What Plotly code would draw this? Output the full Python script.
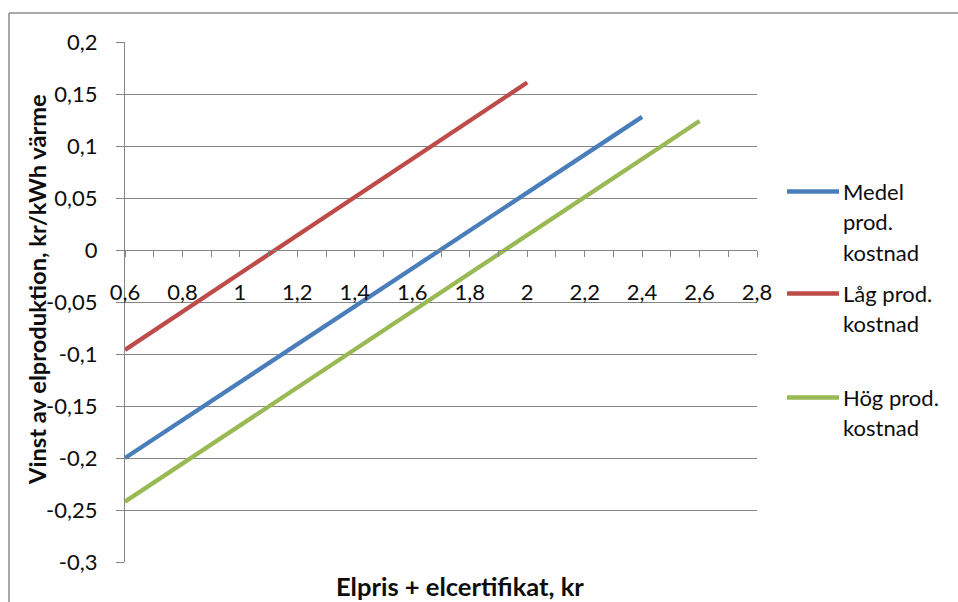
import plotly.graph_objects as go

# Series: profit of electricity production vs. electricity + certificate price
series_names = ["Medel prod. kostnad", "Låg prod. kostnad", "Hög prod. kostnad"]
legend_lines = [["Medel", "prod.", "kostnad"], ["Låg prod.", "kostnad"], ["Hög prod.", "kostnad"]]
series_colors = ["#4A7EBB", "#BE4B48", "#98B954"]

medel_x = [0.6, 2.4]
medel_y = [-0.200, 0.128]
lag_x = [0.6, 2.0]
lag_y = [-0.096, 0.161]
hog_x = [0.6, 2.6]
hog_y = [-0.242, 0.124]

x_tick_vals = [0.6, 0.8, 1.0, 1.2, 1.4, 1.6, 1.8, 2.0, 2.2, 2.4, 2.6, 2.8]
x_tick_text = ["0,6", "0,8", "1", "1,2", "1,4", "1,6", "1,8", "2", "2,2", "2,4", "2,6", "2,8"]
y_tick_vals = [0.2, 0.15, 0.1, 0.05, 0.0, -0.05, -0.1, -0.15, -0.2, -0.25, -0.3]
y_tick_text = ["0,2", "0,15", "0,1", "0,05", "0", "-0,05", "-0,1", "-0,15", "-0,2", "-0,25", "-0,3"]

x_title = "Elpris + elcertifikat, kr"
y_title = "Vinst av elproduktion, kr/kWh värme"

FONT = "Lato"
TXT = "#0D0D0D"
GRID = "#868686"
W, H = 958, 602
L, R, T, B = 125, 201, 42, 40
PW, PH = W - L - R, H - T - B


def px_x(p):
    return (p - L) / PW


def px_y(p):
    return (H - B - p) / PH


fig = go.Figure()
xs = [medel_x, lag_x, hog_x]
ys = [medel_y, lag_y, hog_y]
for name, color, x, y in zip(series_names, series_colors, xs, ys):
    fig.add_trace(go.Scatter(x=x, y=y, mode="lines", name=name,
                             line=dict(color=color, width=4.3), showlegend=False))

# Legend drawn as swatches + text lines
legend_rows = [191.5, 293.5, 397.5]
shapes = []
annotations = []
for lines, color, y0 in zip(legend_lines, series_colors, legend_rows):
    shapes.append(dict(type="line", xref="paper", yref="paper",
                       x0=px_x(787), x1=px_x(839), y0=px_y(y0), y1=px_y(y0),
                       line=dict(color=color, width=4.3)))
    for i, txt in enumerate(lines):
        annotations.append(dict(text=txt, xref="paper", yref="paper",
                                x=px_x(841), y=px_y(y0 + i * 30.3),
                                xanchor="left", yanchor="middle", showarrow=False,
                                font=dict(family=FONT, size=22, color=TXT)))

# Outer chart frame (top and left edges)
shapes.append(dict(type="line", xref="paper", yref="paper",
                   x0=px_x(9), x1=px_x(W + 5), y0=px_y(13), y1=px_y(13),
                   line=dict(color="#8C8C8C", width=1.5)))
shapes.append(dict(type="line", xref="paper", yref="paper",
                   x0=px_x(9), x1=px_x(9), y0=px_y(13), y1=px_y(H + 5),
                   line=dict(color="#8C8C8C", width=1.5)))

annotations.append(dict(text=f"<b>{x_title}</b>", xref="paper", yref="paper",
                        x=px_x(460), y=px_y(586), xanchor="center", yanchor="middle",
                        showarrow=False, font=dict(family=FONT, size=25.5, color=TXT)))
annotations.append(dict(text=f"<b>{y_title}</b>", xref="paper", yref="paper",
                        x=px_x(37), y=px_y(290), xanchor="center", yanchor="middle",
                        textangle=-90, showarrow=False,
                        font=dict(family=FONT, size=23.7, color=TXT)))

fig.update_layout(
    width=W, height=H,
    margin=dict(l=L, r=R, t=T, b=B, pad=0),
    paper_bgcolor="white", plot_bgcolor="white",
    font=dict(family=FONT, size=22, color=TXT),
    showlegend=False,
    shapes=shapes,
    annotations=annotations,
    xaxis=dict(range=[0.6, 2.8], anchor="free", position=0.6,
               tickmode="array", tickvals=x_tick_vals, ticktext=x_tick_text,
               showgrid=False, zeroline=False,
               showline=True, linecolor=GRID, linewidth=1.3,
               ticks="outside", ticklen=6, tickcolor=GRID, tickwidth=1.3,
               minor=dict(tickmode="linear", tick0=0.6, dtick=0.1, ticks="outside",
                          ticklen=6, tickcolor=GRID, tickwidth=1.3),
               ticklabelstandoff=16,
               tickfont=dict(family=FONT, size=22, color=TXT)),
    yaxis=dict(range=[-0.3, 0.2],
               tickmode="array", tickvals=y_tick_vals, ticktext=y_tick_text,
               showgrid=True, gridcolor=GRID, gridwidth=1.3, zeroline=False,
               showline=True, linecolor=GRID, linewidth=1.3,
               ticks="outside", ticklen=8, tickcolor=GRID, tickwidth=1.3,
               ticklabelstandoff=14,
               tickfont=dict(family=FONT, size=22, color=TXT)),
)

fig.write_html("out.html")
